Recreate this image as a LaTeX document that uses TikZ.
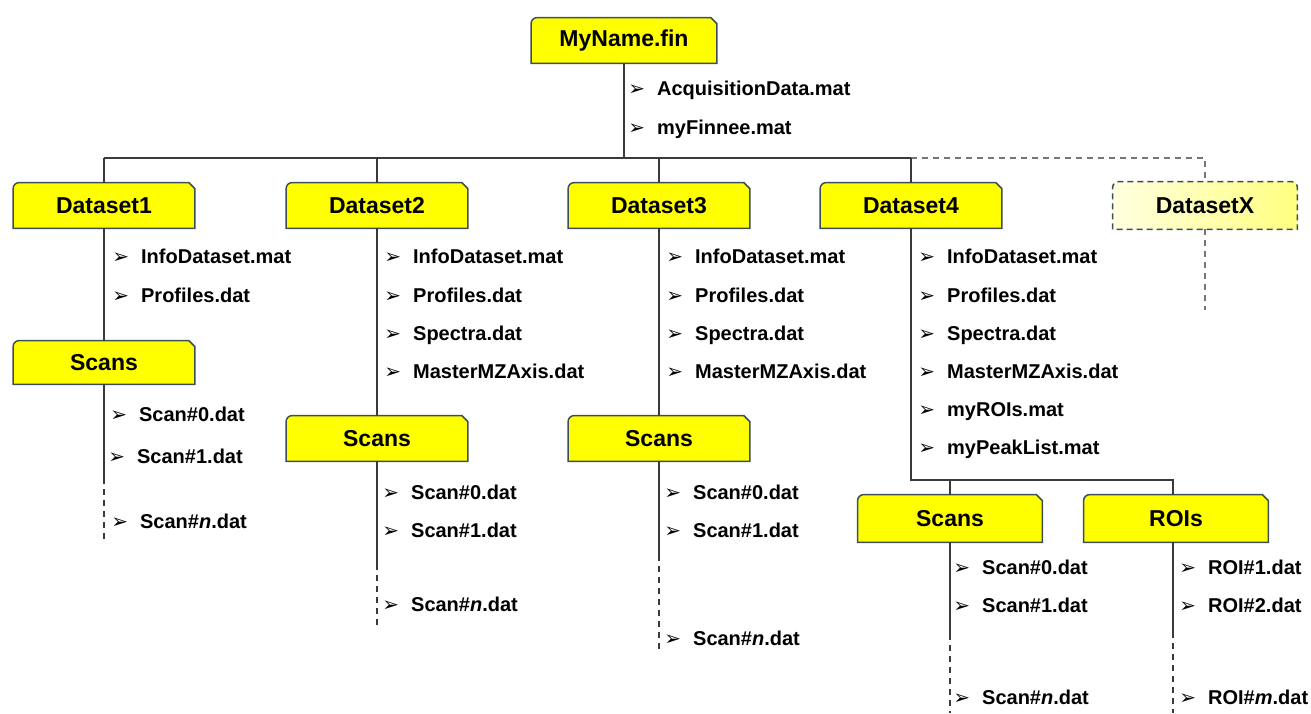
\documentclass[tikz,border=0pt]{standalone}
\usepackage{fontspec}
\setmainfont{Liberation Sans}
\newfontfamily\dejavu{DejaVu Sans}
\usetikzlibrary{backgrounds}
\definecolor{boxyel}{HTML}{FFFF00}
\definecolor{boxedge}{HTML}{3C4E57}
\definecolor{linegray}{HTML}{3A3A3A}
\newcommand\fitem[1]{{\dejavu\fontsize{10}{10}\selectfont ➢}\hspace{6pt}#1}
\newcommand\fshape[1]{%
  \filldraw[fshapestyle] (#1.south west) -- ([yshift=-3pt]#1.north west)
    to[out=90,in=180] ([xshift=3pt]#1.north west)
    -- ([xshift=-3pt]#1.north east) -- ([yshift=-3pt]#1.north east)
    -- (#1.south east) -- cycle;}
\newcommand\fshapeX[1]{%
  \filldraw[fshapestyle,left color=yellow!12,right color=yellow!50,dash pattern=on 3pt off 2pt] (#1.south west) -- ([yshift=-3pt]#1.north west)
    to[out=90,in=180] ([xshift=3pt]#1.north west)
    -- ([xshift=-3pt]#1.north east) to[out=0,in=90] ([yshift=-3pt]#1.north east)
    -- (#1.south east) -- cycle;}
\begin{document}
\begin{tikzpicture}[x=0.5pt,y=-0.5pt,
  folder/.style={minimum width=90.5pt, minimum height=22.5pt, inner sep=0pt,
    font=\fontsize{11.5}{12}\selectfont\bfseries},
  fshapestyle/.style={fill=boxyel, draw=boxedge, line width=0.75pt},
  file/.style={anchor=west, inner sep=0pt, text height=7.2pt, text depth=0pt,
    font=\fontsize{10}{12}\selectfont\bfseries},
  conn/.style={draw=linegray, line width=0.75pt},
  dconn/.style={draw=linegray, line width=0.75pt, dash pattern=on 3pt off 2.5pt}]
\useasboundingbox (0,0) rectangle (1311,713);

% folder nodes
\node[folder, minimum width=92.5pt] (root) at (624,40.5) {MyName.fin};
\node[folder] (d1) at (104,205.5) {Dataset1};
\node[folder] (d2) at (377,205.5) {Dataset2};
\node[folder] (d3) at (659,205.5) {Dataset3};
\node[folder] (d4) at (911,205.5) {Dataset4};
\node[folder, minimum width=92pt, minimum height=23.5pt] (dX) at (1205,205.5) {DatasetX};
\node[folder, minimum height=21.5pt] (s1) at (104,362.5) {Scans};
\node[folder] (s2) at (377,438.5) {Scans};
\node[folder] (s3) at (659,438.5) {Scans};
\node[folder, minimum width=92pt, minimum height=23.5pt] (s4) at (950,518.5) {Scans};
\node[folder, minimum width=92pt, minimum height=23.5pt] (r4) at (1176,518.5) {ROIs};

\begin{scope}[on background layer]
\fshape{root}\fshape{d1}\fshape{d2}\fshape{d3}\fshape{d4}
\fshape{s1}\fshape{s2}\fshape{s3}\fshape{s4}\fshape{r4}
\fshapeX{dX}
\end{scope}

% coordinates
\coordinate (j0) at (624,158);
\coordinate (jL) at (104,158);
\coordinate (j2) at (377,158);
\coordinate (j3) at (659,158);
\coordinate (j4) at (911,158);
\coordinate (jX) at (1205,158);
\coordinate (dXf) at (1205,310);
\coordinate (b4) at (911,480);
\coordinate (b4s) at (950,480);
\coordinate (b4r) at (1173,480);
\coordinate (s1e) at (104,478);  \coordinate (s1f) at (104,540);
\coordinate (s2e) at (377,564);  \coordinate (s2f) at (377,625);
\coordinate (s3e) at (659,555);  \coordinate (s3f) at (659,650);
\coordinate (s4e) at (950,634);  \coordinate (s4f) at (950,713);
\coordinate (r4t) at (1173,542); \coordinate (r4e) at (1173,632); \coordinate (r4f) at (1173,713);

% connectors
\draw[conn] (root.south) -- (j0);
\draw[conn] (jL) -- (j4);
\draw[dconn, draw=linegray!70] (j4) -- (jX) -- (dX.north);
\draw[dconn, draw=linegray!70] (dX.south) -- (dXf);
\draw[conn] (jL) -- (d1.north);
\draw[conn] (j2) -- (d2.north);
\draw[conn] (j3) -- (d3.north);
\draw[conn] (j4) -- (d4.north);
\draw[conn] (d1.south) -- (s1.north);
\draw[conn] (d2.south) -- (s2.north);
\draw[conn] (d3.south) -- (s3.north);
\draw[conn] (d4.south) -- (b4) -- (b4r) -- (r4.north -| b4r);
\draw[conn] (b4s) -- (s4.north);
\draw[conn] (s1.south) -- (s1e); \draw[dconn] (s1e) -- (s1f);
\draw[conn] (s2.south) -- (s2e); \draw[dconn] (s2e) -- (s2f);
\draw[conn] (s3.south) -- (s3e); \draw[dconn] (s3e) -- (s3f);
\draw[conn] (s4.south) -- (s4e); \draw[dconn] (s4e) -- (s4f);
\draw[conn] (r4t) -- (r4e); \draw[dconn] (r4e) -- (r4f);

% file items
\node[file] (fr1) at (628,88) {\fitem{AcquisitionData.mat}};
\node[file] (fr2) at (628,127) {\fitem{myFinnee.mat}};

\node[file] (f11) at (112,256) {\fitem{InfoDataset.mat}};
\node[file] (f12) at (112,295) {\fitem{Profiles.dat}};

\node[file] (f21) at (384,256) {\fitem{InfoDataset.mat}};
\node[file] (f22) at (384,295) {\fitem{Profiles.dat}};
\node[file] (f23) at (384,333) {\fitem{Spectra.dat}};
\node[file] (f24) at (384,371) {\fitem{MasterMZAxis.dat}};

\node[file] (f31) at (666,256) {\fitem{InfoDataset.mat}};
\node[file] (f32) at (666,295) {\fitem{Profiles.dat}};
\node[file] (f33) at (666,333) {\fitem{Spectra.dat}};
\node[file] (f34) at (666,371) {\fitem{MasterMZAxis.dat}};

\node[file] (f41) at (918,256) {\fitem{InfoDataset.mat}};
\node[file] (f42) at (918,295) {\fitem{Profiles.dat}};
\node[file] (f43) at (918,333) {\fitem{Spectra.dat}};
\node[file] (f44) at (918,371) {\fitem{MasterMZAxis.dat}};
\node[file] (f45) at (918,409) {\fitem{myROIs.mat}};
\node[file] (f46) at (918,447) {\fitem{myPeakList.mat}};

\node[file] (g11) at (110,414) {\fitem{Scan\#0.dat}};
\node[file] (g12) at (108,456) {\fitem{Scan\#1.dat}};
\node[file] (g13) at (111,521) {\fitem{Scan\#\textit{n}.dat}};

\node[file] (g21) at (382,492) {\fitem{Scan\#0.dat}};
\node[file] (g22) at (382,530) {\fitem{Scan\#1.dat}};
\node[file] (g23) at (382,604) {\fitem{Scan\#\textit{n}.dat}};

\node[file] (g31) at (664,492) {\fitem{Scan\#0.dat}};
\node[file] (g32) at (664,530) {\fitem{Scan\#1.dat}};
\node[file] (g33) at (664,638) {\fitem{Scan\#\textit{n}.dat}};

\node[file] (g41) at (953,567) {\fitem{Scan\#0.dat}};
\node[file] (g42) at (953,605) {\fitem{Scan\#1.dat}};
\node[file] (g43) at (953,697) {\fitem{Scan\#\textit{n}.dat}};

\node[file] (h41) at (1179,567) {\fitem{ROI\#1.dat}};
\node[file] (h42) at (1179,605) {\fitem{ROI\#2.dat}};
\node[file] (h43) at (1179,697) {\fitem{ROI\#\textit{m}.dat}};
\end{tikzpicture}
\end{document}
